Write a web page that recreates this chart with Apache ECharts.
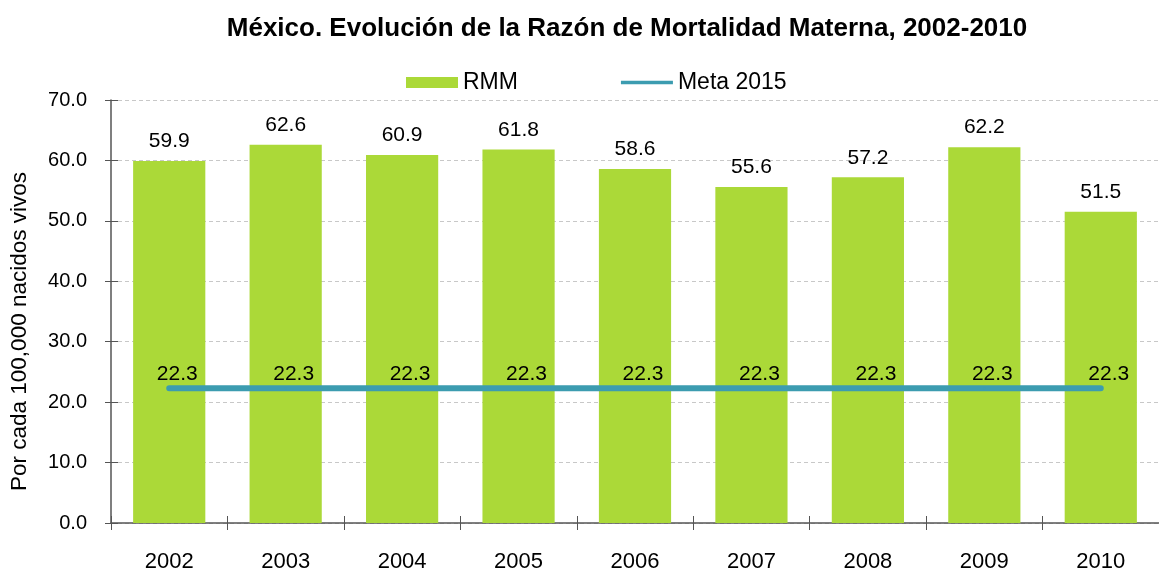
<!DOCTYPE html>
<html><head><meta charset="utf-8">
<script src="https://cdn.jsdelivr.net/npm/echarts@6/dist/echarts.min.js"></script>
<style>html,body{margin:0;padding:0;background:#fff}#c{width:1159px;height:571px}</style>
</head><body><div id="c"></div>
<script>
const categories = ['2002','2003','2004','2005','2006','2007','2008','2009','2010'];
const rmm = [59.9, 62.6, 60.9, 61.8, 58.6, 55.6, 57.2, 62.2, 51.5];
const meta = [22.3, 22.3, 22.3, 22.3, 22.3, 22.3, 22.3, 22.3, 22.3];
const yTicks = {min: 0, max: 70, interval: 10};

const font = 'Liberation Sans, Arial, Helvetica, sans-serif';
const axisColor = '#555';
const chart = echarts.init(document.getElementById('c'));
chart.setOption({
  animation: false,
  textStyle: {fontFamily: font},
  title: {
    text: 'México. Evolución de la Razón de Mortalidad Materna, 2002-2010',
    left: 622, top: 11, textAlign: 'center',
    textStyle: {fontSize: 26, fontWeight: 'bold', color: '#000', fontFamily: font}
  },
  legend: {
    top: 66, left: 401, itemGap: 103, itemWidth: 52, itemHeight: 11,
    textStyle: {fontSize: 23, color: '#000', fontFamily: font},
    data: [
      {name: 'RMM', icon: 'rect'},
      {name: 'Meta 2015', icon: 'path://M0,0H14V1H0Z', itemStyle: {color: '#3c9cb0'}}
    ]
  },
  grid: {left: 111, right: 0, top: 100, bottom: 48, containLabel: false, outerBoundsMode: 'none'},
  xAxis: [{
    type: 'category', data: categories,
    axisLine: {lineStyle: {color: axisColor, width: 1.5}},
    axisTick: {show: true, length: 7, lineStyle: {color: axisColor}},
    axisLabel: {fontSize: 22, color: '#000', margin: 28, fontFamily: font}
  }, {
    type: 'category', data: categories, position: 'bottom',
    axisLine: {show: false},
    axisTick: {show: true, inside: true, length: 7, lineStyle: {color: axisColor}},
    axisLabel: {show: false}
  }],
  yAxis: [{
    type: 'value', min: yTicks.min, max: yTicks.max, interval: yTicks.interval,
    name: 'Por cada 100,000 nacidos vivos', nameLocation: 'middle', nameGap: 80,
    nameTextStyle: {fontSize: 22.5, color: '#000', fontFamily: font, padding: [0, 0, 0, -40]},
    axisLine: {show: true, lineStyle: {color: axisColor, width: 1.5}},
    axisTick: {show: true, length: 6, lineStyle: {color: axisColor}},
    axisLabel: {fontSize: 20, color: '#000', margin: 24, fontFamily: font,
      formatter: v => v.toFixed(1)},
    splitLine: {lineStyle: {color: '#c8c8c8', type: [4, 3]}}
  }, {
    type: 'value', min: yTicks.min, max: yTicks.max, interval: yTicks.interval,
    position: 'left',
    axisLine: {show: false},
    axisTick: {show: true, inside: true, length: 7, lineStyle: {color: axisColor}},
    axisLabel: {show: false},
    splitLine: {show: false}
  }],
  series: [
    {
      name: 'RMM', type: 'bar', data: rmm, barWidth: '62%',
      itemStyle: {color: '#abd938'},
      label: {show: true, position: 'top', distance: 9, fontSize: 21, color: '#000',
        fontFamily: font, formatter: p => p.value.toFixed(1)}
    },
    {
      name: 'Meta 2015', type: 'line', data: meta, symbol: 'circle', symbolSize: 2,
      showSymbol: true,
      lineStyle: {color: '#3c9cb0', width: 6, cap: 'round'},
      itemStyle: {color: '#3c9cb0'},
      label: {show: true, position: 'top', distance: 3, fontSize: 21,
        color: '#000', fontFamily: font, formatter: p => p.value.toFixed(1)},
      labelLayout: {dx: 8, hideOverlap: false},
      z: 3
    }
  ]
});
</script></body></html>
